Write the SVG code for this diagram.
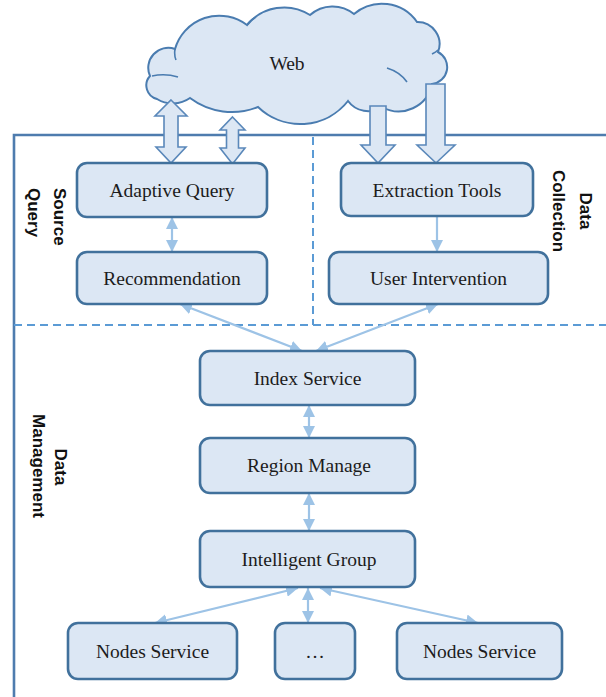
<svg xmlns="http://www.w3.org/2000/svg" width="606" height="697" viewBox="0 0 606 697">
<style>
.frame{fill:none;stroke:#4e7cae;stroke-width:2.6}
.dash{fill:none;stroke:#5b9bd5;stroke-width:2;stroke-dasharray:8,5}
.node rect{fill:#dce7f4;stroke:#41719c;stroke-width:2.6}
.node text{font-family:"Liberation Serif","Times New Roman",serif;font-size:19.5px;fill:#1c1c1c;text-anchor:middle}
.cloud{fill:#dce7f4;stroke:#4a7cb0;stroke-width:2}
.cloud-in{fill:none;stroke:#4a7cb0;stroke-width:1.6}
.block{fill:#dce7f4;stroke:#5a88ba;stroke-width:1.6;stroke-linejoin:miter}
.conn{fill:none;stroke:#9dc3e6;stroke-width:2.2}
.lbl{font-family:"Liberation Sans",Arial,sans-serif;font-weight:bold;font-size:17px;fill:#111}
.web{font-family:"Liberation Serif","Times New Roman",serif;font-size:19.5px;fill:#1c1c1c;text-anchor:middle}
</style>
<defs>
<marker id="ah" viewBox="0 0 12 12" markerWidth="12" markerHeight="12" refX="12" refY="6" orient="auto-start-reverse" markerUnits="userSpaceOnUse">
<path d="M0,0 L12,6 L0,12 Z" fill="#9dc3e6"/>
</marker>
</defs>

<g id="frame">
<path class="frame" d="M14,697 L14,135 L606,135"/>
<path class="dash" d="M313,137 L313,325"/>
<path class="dash" d="M14,325 L606,325"/>
</g>

<g id="labels">
<text class="lbl" transform="translate(54,188) rotate(90)">Source</text>
<text class="lbl" transform="translate(28,188) rotate(90)">Query</text>
<text class="lbl" text-anchor="middle" transform="translate(580,211) rotate(90)">Data</text>
<text class="lbl" text-anchor="middle" transform="translate(553,211) rotate(90)">Collection</text>
<text class="lbl" text-anchor="middle" transform="translate(55,467) rotate(90)">Data</text>
<text class="lbl" text-anchor="middle" transform="translate(33,466) rotate(90)">Management</text>
</g>

<g id="web">
<path class="cloud" d="M157,99 A14,14 0 0 1 150,76 A20,20 0 0 1 175,49 A46,46 0 0 1 247,25 A48,48 0 0 1 310,15 A34,34 0 0 1 354,14 A43,43 0 0 1 417,22 A22,22 0 0 1 438,52 A17,17 0 0 1 432,84 A34,34 0 0 1 382,107 A25,25 0 0 1 348,101 A61,61 0 0 1 258,107 A70,70 0 0 1 190,98 A30,30 0 0 1 157,99 Z"/>
<path class="cloud-in" d="M152,76 Q165,73 178,77 M175,49 Q174,55 176,60 M387,68 Q400,72 407,82 M432,54 Q436,52 438,50 M247,25 Q250,20 256,17"/>
<text class="web" x="287" y="70">Web</text>
</g>

<g id="block-arrows">
<path class="block" d="M171,100 L187,116 L178,116 L178,147 L186,147 L171,163 L156,147 L164,147 L164,116 L155,116 Z"/>
<path class="block" d="M232.5,117 L245,130 L238.5,130 L238.5,148 L245,148 L232.5,164 L220,148 L226.5,148 L226.5,130 L220,130 Z"/>
<path class="block" d="M370,106 L386,106 L386,145 L395,145 L378,163 L361,145 L370,145 Z"/>
<path class="block" d="M426,84 L445,84 L445,145 L455,145 L436,163 L417,145 L426,145 Z"/>
</g>

<g id="connectors">
<path class="conn" d="M172,217 L172,252" marker-start="url(#ah)" marker-end="url(#ah)"/>
<path class="conn" d="M437,216 L437,252" marker-end="url(#ah)"/>
<path class="conn" d="M180,304 L302,351" marker-start="url(#ah)" marker-end="url(#ah)"/>
<path class="conn" d="M438,304 L316,351" marker-start="url(#ah)" marker-end="url(#ah)"/>
<path class="conn" d="M309,405 L309,438" marker-start="url(#ah)" marker-end="url(#ah)"/>
<path class="conn" d="M309,493 L309,531" marker-start="url(#ah)" marker-end="url(#ah)"/>
<path class="conn" d="M308,588 L308,623" marker-start="url(#ah)" marker-end="url(#ah)"/>
<path class="conn" d="M298,588 L155,623" marker-start="url(#ah)" marker-end="url(#ah)"/>
<path class="conn" d="M320,588 L478,623" marker-start="url(#ah)" marker-end="url(#ah)"/>
</g>

<g id="adaptive-query" class="node"><rect x="77" y="163" width="190" height="54" rx="10"/><text x="172" y="197">Adaptive Query</text></g>
<g id="recommendation" class="node"><rect x="77" y="252" width="190" height="52" rx="10"/><text x="172" y="285">Recommendation</text></g>
<g id="extraction-tools" class="node"><rect x="341" y="163" width="192" height="53" rx="10"/><text x="437" y="197">Extraction Tools</text></g>
<g id="user-intervention" class="node"><rect x="329" y="252" width="219" height="52" rx="10"/><text x="438.5" y="285">User Intervention</text></g>
<g id="index-service" class="node"><rect x="200" y="351" width="215" height="54" rx="10"/><text x="307.5" y="385">Index Service</text></g>
<g id="region-manage" class="node"><rect x="200" y="438" width="215" height="55" rx="10"/><text x="309" y="472">Region Manage</text></g>
<g id="intelligent-group" class="node"><rect x="200" y="531" width="215" height="56" rx="10"/><text x="309" y="566">Intelligent Group</text></g>
<g id="nodes-service-1" class="node"><rect x="68" y="623" width="169" height="56" rx="10"/><text x="152.5" y="658">Nodes Service</text></g>
<g id="ellipsis" class="node"><rect x="275" y="623" width="80" height="56" rx="10"/><text x="315" y="658">…</text></g>
<g id="nodes-service-2" class="node"><rect x="397" y="623" width="165" height="56" rx="10"/><text x="479.5" y="658">Nodes Service</text></g>
</svg>
